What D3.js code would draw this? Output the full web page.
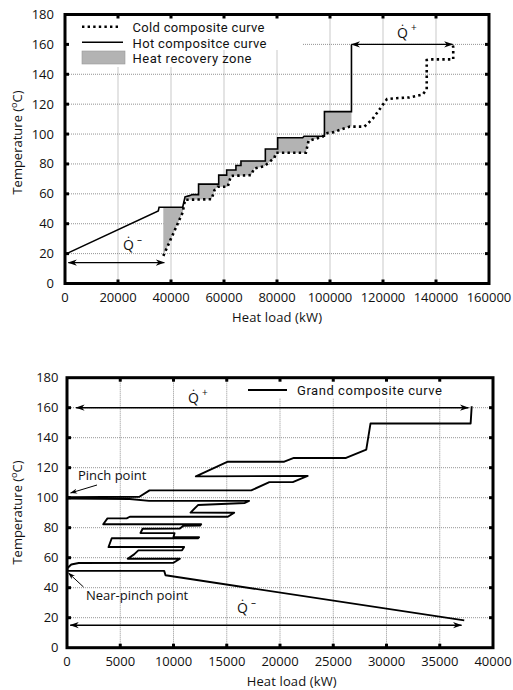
<!DOCTYPE html>
<html><head><meta charset="utf-8">
<script src="https://cdn.jsdelivr.net/npm/d3@7"></script>
<style>
body{margin:0;background:#fff}
svg{display:block}
text{font-family:"Open Sans",sans-serif;font-size:13px;fill:#111}
text.leg{font-family:Roboto,sans-serif;font-size:13px}
</style>
</head><body>
<svg id="c" width="513" height="690"></svg>
<script>
// ---------- data ----------
const topXTicks = [0,20000,40000,60000,80000,100000,120000,140000,160000];
const botXTicks = [0,5000,10000,15000,20000,25000,30000,35000,40000];
const yTicks = [0,20,40,60,80,100,120,140,160,180];

// Hot composite curve [heat load kW, temperature C]
const hotCurve = [[0,19.5],[35200,48.5],[35500,51],[44400,51],[45300,58],[47000,58.8],[48000,59.5],[50400,59.5],[50400,66.5],[58000,66.5],[58000,72.5],[61000,72.5],[61000,75.9],[64500,75.9],[64500,79],[66400,79],[66400,82],[75600,82],[75600,90],[80250,90],[80250,97.5],[89700,97.5],[90200,98.5],[97900,98.5],[97900,115],[108100,115],[108100,160]];
// Cold composite curve
const coldCurve = [[37100,18.5],[44400,47.5],[45300,56],[55300,56.4],[56400,62.5],[57600,64.7],[61400,64.7],[62600,72],[70200,72.5],[71400,77],[75200,78.5],[79000,84],[79600,87.5],[90900,87.5],[91900,95.5],[97200,98.2],[98500,100.5],[101500,101.3],[104000,103],[107500,105],[113000,105],[116000,110],[118500,116],[121500,123.4],[125000,124],[130000,124.5],[135000,126.5],[136500,130],[136500,149.5],[137700,150],[146500,150],[146500,158],[146300,160]];
// Grand composite curve
const gccCurve = [[38000,161],[37900,149.5],[28500,149.5],[28100,132],[26200,126.5],[21300,126.5],[20400,124],[15100,124],[12100,114.2],[22600,114.5],[21200,110.4],[19000,110.4],[17300,104.9],[7750,104.9],[6800,100.6],[0,100.3],[0,99.4],[5900,99.1],[7700,97.9],[17100,97.9],[16700,96.5],[12300,95.1],[11600,90.1],[15700,90],[15100,87.3],[5900,87.3],[5600,86.2],[3800,86.2],[3400,82.3],[12600,82.3],[12500,81.4],[10900,81.2],[10600,79.4],[7100,79.3],[6900,76.5],[10100,76.4],[10000,73.8],[12400,73.6],[12300,73.0],[4200,73.0],[3900,67.1],[11000,67.1],[10800,64.9],[6700,64.9],[6300,62.2],[5700,59.3],[10600,59.3],[10000,56.6],[1100,56.5],[400,55.5],[100,53.5],[0,52],[150,51.2],[9125,51.2],[9250,48.3],[37300,18.2]];

// Q arrows [x0, x1, T]
const topQplus = [108100,146300,160];
const topQminus = [1250,37500,14];
const botQplus = [850,37700,160];
const botQminus = [300,37050,15];

// legend labels
const topLegend = ["Cold composite curve","Hot compositce curve","Heat recovery zone"];
const botLegend = ["Grand composite curve"];

// ---------- drawing ----------
const svg = d3.select("#c");
const defs = svg.append("defs");
defs.append("marker").attr("id","arr").attr("viewBox","0 0 10 8")
  .attr("refX",9.5).attr("refY",4).attr("markerWidth",9).attr("markerHeight",7.2)
  .attr("markerUnits","userSpaceOnUse").attr("orient","auto-start-reverse")
  .append("path").attr("d","M0,0.5 L10,4 L0,7.5 L3,4 Z").attr("fill","#000");
defs.append("marker").attr("id","arrS").attr("viewBox","0 0 10 8")
  .attr("refX",9.5).attr("refY",4).attr("markerWidth",7).attr("markerHeight",5.6)
  .attr("markerUnits","userSpaceOnUse").attr("orient","auto")
  .append("path").attr("d","M0,0.5 L10,4 L0,7.5 L3,4 Z").attr("fill","#000");

function frame(g, x, y, xt, yt){
  const [x0,x1] = x.range(), [y0,y1] = y.range();
  g.append("g").selectAll("line").data(xt.slice(1,-1)).join("line")
    .attr("x1",d=>x(d)).attr("x2",d=>x(d)).attr("y1",y0).attr("y2",y1)
    .attr("stroke","#777").attr("stroke-width",0.8).attr("stroke-dasharray","1,1");
  g.append("g").selectAll("line").data(yt.slice(1,-1)).join("line")
    .attr("y1",d=>y(d)).attr("y2",d=>y(d)).attr("x1",x0).attr("x2",x1)
    .attr("stroke","#777").attr("stroke-width",0.8).attr("stroke-dasharray","1,1");
}
function axes(g, x, y, xt, yt, labelEndX, xTitleX, xTitleY, yTitleY){
  const [x0,x1] = x.range(), [y0,y1] = y.range();
  const tk = g.append("g");
  xt.slice(1,-1).forEach(d=>{
    tk.append("rect").attr("x",x(d)-1.5).attr("y",y0-4).attr("width",3).attr("height",4);
    tk.append("rect").attr("x",x(d)-1.5).attr("y",y1).attr("width",3).attr("height",4);
  });
  yt.slice(1,-1).forEach(d=>{
    tk.append("rect").attr("x",x0).attr("y",y(d)-1.5).attr("width",4).attr("height",3);
    tk.append("rect").attr("x",x1-4).attr("y",y(d)-1.5).attr("width",4).attr("height",3);
  });
  g.append("rect").attr("x",x0).attr("y",y1).attr("width",x1-x0).attr("height",y0-y1)
    .attr("fill","none").attr("stroke","#000").attr("stroke-width",3);
  g.append("g").selectAll("text").data(xt).join("text")
    .attr("x",d=>x(d)).attr("y",y0+18).attr("text-anchor","middle").text(d=>d);
  g.append("g").selectAll("text").data(yt).join("text")
    .attr("x",labelEndX).attr("y",d=>y(d)+4.5).attr("text-anchor","end").text(d=>d);
  g.append("text").attr("x",xTitleX).attr("y",xTitleY).attr("text-anchor","middle")
    .attr("textLength",90).attr("lengthAdjust","spacing").text("Heat load (kW)");
  const yt2 = g.append("text").attr("transform",`translate(22,${yTitleY}) rotate(-90)`).attr("text-anchor","middle");
  yt2.append("tspan").text("Temperature (");
  yt2.append("tspan").attr("font-size","9px").attr("dy",-5).text("o");
  yt2.append("tspan").attr("dy",5).text("C)");
}
function qLabel(g, px, py, sign){
  const t = g.append("text").attr("x",px).attr("y",py);
  t.append("tspan").attr("font-size","14px").text("Q\u0307");
  t.append("tspan").attr("font-size","10px").attr("dx",3).attr("dy",-7).text(sign);
}
function dblArrow(g, x, y, q){
  g.append("line").attr("x1",x(q[0])).attr("x2",x(q[1])).attr("y1",y(q[2])).attr("y2",y(q[2]))
    .attr("stroke","#000").attr("stroke-width",1.4)
    .attr("marker-start","url(#arr)").attr("marker-end","url(#arr)");
}

// ---------- top chart ----------
{
  const x = d3.scaleLinear().domain([0,160000]).range([65,489]);
  const y = d3.scaleLinear().domain([0,180]).range([283.5,14.5]);
  const g = svg.append("g");
  frame(g,x,y,topXTicks,yTicks);
  g.append("path").attr("d","M66.5,16 H302 V50 H216 V67 H66.5 Z").attr("fill","#fff");
  const interp = (c, xv) => {
    for (let i=1;i<c.length;i++){
      const [xa,ta]=c[i-1],[xb,tb]=c[i];
      if (xv>=xa && xv<=xb){ return xb===xa ? ta : ta+(tb-ta)*(xv-xa)/(xb-xa); }
    }
    return c[c.length-1][1];
  };
  const xa = coldCurve[0][0], xb = hotCurve[hotCurve.length-1][0];
  const upper = [[xa, interp(hotCurve,xa)]].concat(hotCurve.slice(0,-1).filter(p=>p[0]>xa && p[0]<=xb));
  const lower = coldCurve.filter(p=>p[0]>=xa && p[0]<xb).concat([[xb, interp(coldCurve,xb)]]);
  const zone = upper.concat(lower.reverse());
  const line = d3.line().x(d=>x(d[0])).y(d=>y(d[1]));
  g.append("path").attr("d",line(zone)+"Z").attr("fill","#b3b3b3");
  g.append("path").attr("d",line(hotCurve)).attr("fill","none").attr("stroke","#000").attr("stroke-width",1.6);
  g.append("path").attr("d",line(coldCurve)).attr("fill","none").attr("stroke","#000").attr("stroke-width",2.6)
    .attr("stroke-dasharray","2.4,3.2");
  dblArrow(g,x,y,topQplus);
  dblArrow(g,x,y,topQminus);
  qLabel(g, 397, 38, "+");
  qLabel(g, 123, 250, "\u2013");
  // legend
  g.append("line").attr("x1",82).attr("x2",121).attr("y1",26.7).attr("y2",26.7)
    .attr("stroke","#000").attr("stroke-width",2.6).attr("stroke-dasharray","2.4,3.2");
  g.append("line").attr("x1",82).attr("x2",123).attr("y1",42.3).attr("y2",42.3)
    .attr("stroke","#000").attr("stroke-width",1.6);
  g.append("rect").attr("x",82).attr("y",51).attr("width",43).attr("height",13)
    .attr("fill","#b3b3b3").attr("stroke","#999").attr("stroke-width",0.6);
  const lw = [132,134,119], ly = [32.3,47.7,62.9];
  topLegend.forEach((s,i)=>{
    g.append("text").attr("class","leg").attr("x",132.5).attr("y",ly[i])
      .attr("textLength",lw[i]).attr("lengthAdjust","spacing").text(s);
  });
  axes(g,x,y,topXTicks,yTicks,54,277,322,142.5);
}

// ---------- bottom chart ----------
{
  const x = d3.scaleLinear().domain([0,40000]).range([67,493]);
  const y = d3.scaleLinear().domain([0,180]).range([647.7,377.7]);
  const g = svg.append("g");
  frame(g,x,y,botXTicks,yTicks);
  g.append("rect").attr("x",240).attr("y",379).attr("width",252).attr("height",19).attr("fill","#fff");
  const line = d3.line().x(d=>x(d[0])).y(d=>y(d[1]));
  g.append("path").attr("d",line(gccCurve)).attr("fill","none").attr("stroke","#000")
    .attr("stroke-width",1.9).attr("stroke-linejoin","round");
  dblArrow(g,x,y,botQplus);
  dblArrow(g,x,y,botQminus);
  qLabel(g, 188, 403, "+");
  qLabel(g, 237, 613, "\u2013");
  g.append("line").attr("x1",248).attr("x2",287).attr("y1",390).attr("y2",390)
    .attr("stroke","#000").attr("stroke-width",1.9);
  g.append("text").attr("class","leg").attr("x",297).attr("y",395)
    .attr("textLength",145).attr("lengthAdjust","spacing").text(botLegend[0]);
  g.append("text").attr("x",78).attr("y",479.5).text("Pinch point");
  g.append("line").attr("x1",97).attr("y1",485).attr("x2",70.5).attr("y2",493)
    .attr("stroke","#000").attr("stroke-width",1).attr("marker-end","url(#arrS)");
  g.append("text").attr("x",86).attr("y",599.5).text("Near-pinch point");
  g.append("line").attr("x1",83.5).attr("y1",587).attr("x2",68.5).attr("y2",573)
    .attr("stroke","#000").attr("stroke-width",1).attr("marker-end","url(#arrS)");
  axes(g,x,y,botXTicks,yTicks,58.5,291.7,685.5,512.5);
}
</script>
</body></html>
